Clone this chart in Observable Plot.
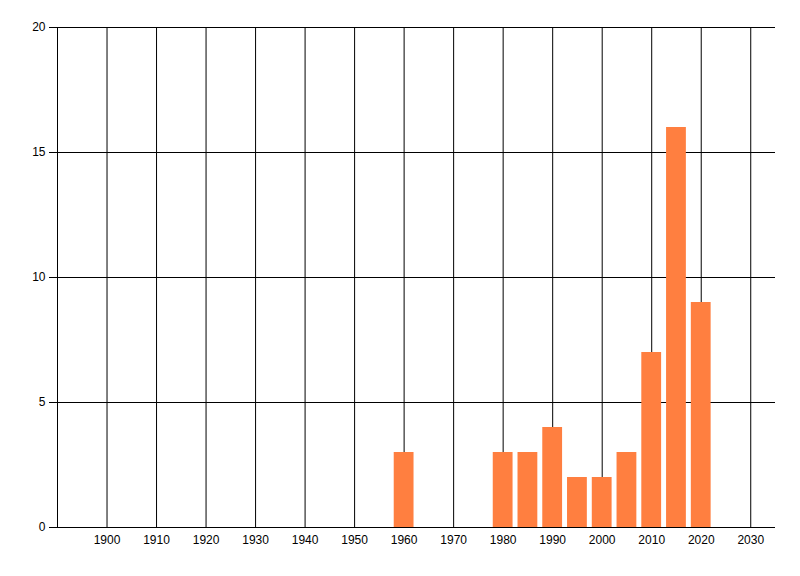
<!DOCTYPE html>
<html>
<head>
<meta charset="utf-8">
<script src="https://cdn.jsdelivr.net/npm/d3@7"></script>
<script src="https://cdn.jsdelivr.net/npm/@observablehq/plot@0.6"></script>
<style>
  body { margin: 0; background: #fff; }
</style>
</head>
<body>
<div id="chart"></div>
<script>
// Bars: year and count
const years = [1960, 1980, 1985, 1990, 1995, 2000, 2005, 2010, 2015, 2020];
const counts = [3, 3, 3, 4, 2, 2, 3, 7, 16, 9];

// Tick labels
const xTicks = [1900, 1910, 1920, 1930, 1940, 1950, 1960, 1970, 1980, 1990, 2000, 2010, 2020, 2030];
const yTicks = [0, 5, 10, 15, 20];

const data = years.map((year, i) => ({year, count: counts[i]}));

const chart = Plot.plot({
  width: 800,
  height: 576,
  marginLeft: 57,
  marginRight: 25,
  marginTop: 27,
  marginBottom: 49,
  style: {fontFamily: "'Liberation Sans', Arial, sans-serif", fontSize: "12px", color: "#000"},
  x: {domain: [1890, 2035]},
  y: {domain: [0, 20]},
  marks: [
    // grid
    Plot.ruleX(xTicks, {y1: 0, y2: 20, stroke: "#000", strokeOpacity: 1}),
    Plot.ruleY(yTicks.filter(d => d > 0), {x1: 1890, x2: 2035, stroke: "#000", strokeOpacity: 1}),
    // bars, 4 years wide
    Plot.rectY(data, {x1: d => d.year - 2, x2: d => d.year + 2, y: "count", fill: "#ff7f40"}),
    // axes
    Plot.ruleY([0], {stroke: "#000"}),
    Plot.ruleX([1890], {y1: 0, y2: 20, stroke: "#000"}),
    Plot.axisY({ticks: yTicks, tickSize: 8, tickPadding: 4, label: null, strokeOpacity: 1}),
    Plot.axisX({ticks: xTicks, tickSize: 0, tickPadding: 8, tickFormat: d => String(d), label: null})
  ]
});

document.getElementById("chart").append(chart);
</script>
</body>
</html>
